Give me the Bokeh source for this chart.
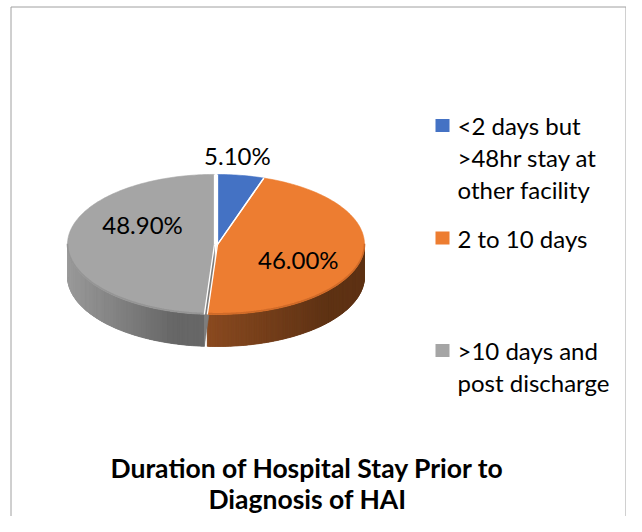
import numpy as np
from bokeh.plotting import figure
from bokeh.models import Range1d
from bokeh.core.properties import value
from bokeh.embed import file_html
from bokeh.resources import INLINE

# ---------------- data ----------------
categories = ["<2 days but >48hr stay at other facility", "2 to 10 days", ">10 days and post discharge"]
legend_lines = [["<2 days but", ">48hr stay at", "other facility"],
                ["2 to 10 days"],
                [">10 days and", "post discharge"]]
shares = [5.1, 46.0, 48.9]
share_labels = ["5.10%", "46.00%", "48.90%"]
title_lines = ["Duration of Hospital Stay Prior to", "Diagnosis of HAI"]

# ---------------- style ----------------
top_colors = ["#4472C4", "#ED7D31", "#A5A5A5"]
rim_colors = ["#3B64AD", "#D06A28", "#959595"]
side_light = ["#3A62A8", "#8A4A20", "#9A9A9A"]
side_dark = ["#2C4C86", "#5E3214", "#676767"]
explode_px = [0, 0, 3]
label_rf = [0.85, 0.56, 0.49]     # radial factor for label anchor
label_dy = [-30, 7, -19]          # vertical nudge of label anchor
FONT = "Lato"

W, H = 626, 516
p = figure(width=W, height=H, x_range=Range1d(0, W), y_range=Range1d(H, 0),
           output_backend="svg", toolbar_location=None, min_border=0)
p.axis.visible = False
p.grid.visible = False
p.outline_line_color = None
p.background_fill_color = "white"
p.border_fill_color = "white"

# chart border (bottom edge is beyond the visible area)
p.line([10.5, 10.5, 625.5, 625.5], [H, 6.5, 6.5, H], line_color="#A0A0A0", line_width=1)

# pie geometry (screen-pixel data space)
cx, cy, a, b, depth = 217.0, 244.0, 147.0, 70.0, 32.0
total = float(sum(shares))
bounds = np.concatenate([[0.0], np.cumsum(shares)]) / total * 360.0


def hexrgb(h):
    h = h.lstrip("#")
    return np.array([int(h[i:i + 2], 16) for i in (0, 2, 4)], dtype=float)


def mix(c1, c2, u):
    c = hexrgb(c1) * (1 - u) + hexrgb(c2) * u
    return "#%02x%02x%02x" % tuple(int(round(v)) for v in c)


def offsets(i):
    m = np.radians((bounds[i] + bounds[i + 1]) / 2)
    return explode_px[i] * np.sin(m), -explode_px[i] * np.cos(m) * b / a


def rim(t_deg, ox, oy):
    t = np.radians(t_deg)
    return cx + ox + a * np.sin(t), cy + oy - b * np.cos(t)


base_xs, base_ys, base_cols = [], [], []
side_xs, side_ys, side_cols = [], [], []
face_xs, face_ys, face_cols = [], [], []
top_xs, top_ys = [], []
sep_xs, sep_ys = [], []
rim_xs, rim_ys, rim_cols = [], [], []

for i in range(len(shares)):
    t0, t1 = bounds[i], bounds[i + 1]
    ox, oy = offsets(i)
    # visible outer side (front half: 90..270 degrees)
    s0, s1 = max(t0, 90.0), min(t1, 270.0)
    if s1 > s0:
        n = max(int((s1 - s0) / 1.0), 4)
        ts = np.linspace(s0, s1, n + 1)
        xs, ys = rim(ts, ox, oy)
        base_xs.append(list(xs) + list(xs[::-1]))
        base_ys.append(list(ys) + list(ys[::-1] + depth))
        base_cols.append(mix(side_light[i], side_dark[i], 0.5))
        xmin, xmax = xs.min(), xs.max()
        for k in range(n):
            qx = [xs[k], xs[k + 1], xs[k + 1], xs[k]]
            qy = [ys[k], ys[k + 1], ys[k + 1] + depth, ys[k] + depth]
            u = ((xs[k] + xs[k + 1]) / 2 - xmin) / max(xmax - xmin, 1)
            side_xs.append(qx)
            side_ys.append(qy)
            side_cols.append(mix(side_light[i], side_dark[i], min(1.0, u * 1.3)))
        rim_xs.append(list(xs))
        rim_ys.append(list(ys - 0.8))
        rim_cols.append(rim_colors[i])
    # radial face at start edge if it faces the viewer and slice is exploded
    if explode_px[i] > 0 and 90 < t0 < 270:
        ex, ey = rim(t0, ox, oy)
        face_xs.append([cx + ox, ex, ex, cx + ox])
        face_ys.append([cy + oy, ey, ey + depth, cy + oy + depth])
        face_cols.append(mix(side_dark[i], top_colors[i], 0.35))
    # top face
    ts = np.linspace(t0, t1, max(int((t1 - t0) / 1.0), 3) + 1)
    xs, ys = rim(ts, ox, oy)
    top_xs.append([cx + ox] + list(xs))
    top_ys.append([cy + oy] + list(ys))
    # white slice borders along radial edges
    for t in (t0, t1):
        ex, ey = rim(t, ox, oy)
        sep_xs.append([cx + ox, ex])
        sep_ys.append([cy + oy, ey])

p.patches(base_xs, base_ys, fill_color=base_cols, line_color=None)
p.patches(side_xs, side_ys, fill_color=side_cols, line_color=side_cols, line_width=0.8)
if face_xs:
    p.patches(face_xs, face_ys, fill_color=face_cols, line_color=face_cols, line_width=0.5)
p.patches(top_xs, top_ys, fill_color=top_colors, line_color=top_colors, line_width=0.6)
p.multi_line(rim_xs, rim_ys, line_color=rim_cols, line_width=1.6)
p.multi_line(sep_xs, sep_ys, line_color="white", line_width=1.3)

# data labels
lx, ly = [], []
for i in range(len(shares)):
    m = np.radians((bounds[i] + bounds[i + 1]) / 2)
    ox, oy = offsets(i)
    lx.append(cx + ox + label_rf[i] * a * np.sin(m))
    ly.append(cy + oy - label_rf[i] * b * np.cos(m) + label_dy[i])
p.text(x=lx, y=ly, text=share_labels, text_align="center", text_baseline="middle",
       text_font=value(FONT), text_font_size="24px", text_color="#000000")

# legend
leg_x, leg_top, slot, line_h = 442, 125, 112.5, 32
sq_y = [leg_top + i * slot for i in range(len(categories))]
p.rect(x=[leg_x] * len(categories), y=sq_y, width=14, height=13, fill_color=top_colors, line_color=None)
tx, ty, tt = [], [], []
for i, lines in enumerate(legend_lines):
    for k, s in enumerate(lines):
        tx.append(457)
        ty.append(sq_y[i] + k * line_h)
        tt.append(s)
p.text(x=tx, y=ty, text=tt, text_align="left", text_baseline="middle",
       text_font=value(FONT), text_font_size="24px", text_color="#000000")

# title
p.text(x=[307, 307], y=[467, 498], text=title_lines, text_align="center", text_baseline="middle",
       text_font=value(FONT), text_font_size="26.5px", text_font_style="bold", text_color="#000000")

open("out.html", "w").write(file_html(p, INLINE))
